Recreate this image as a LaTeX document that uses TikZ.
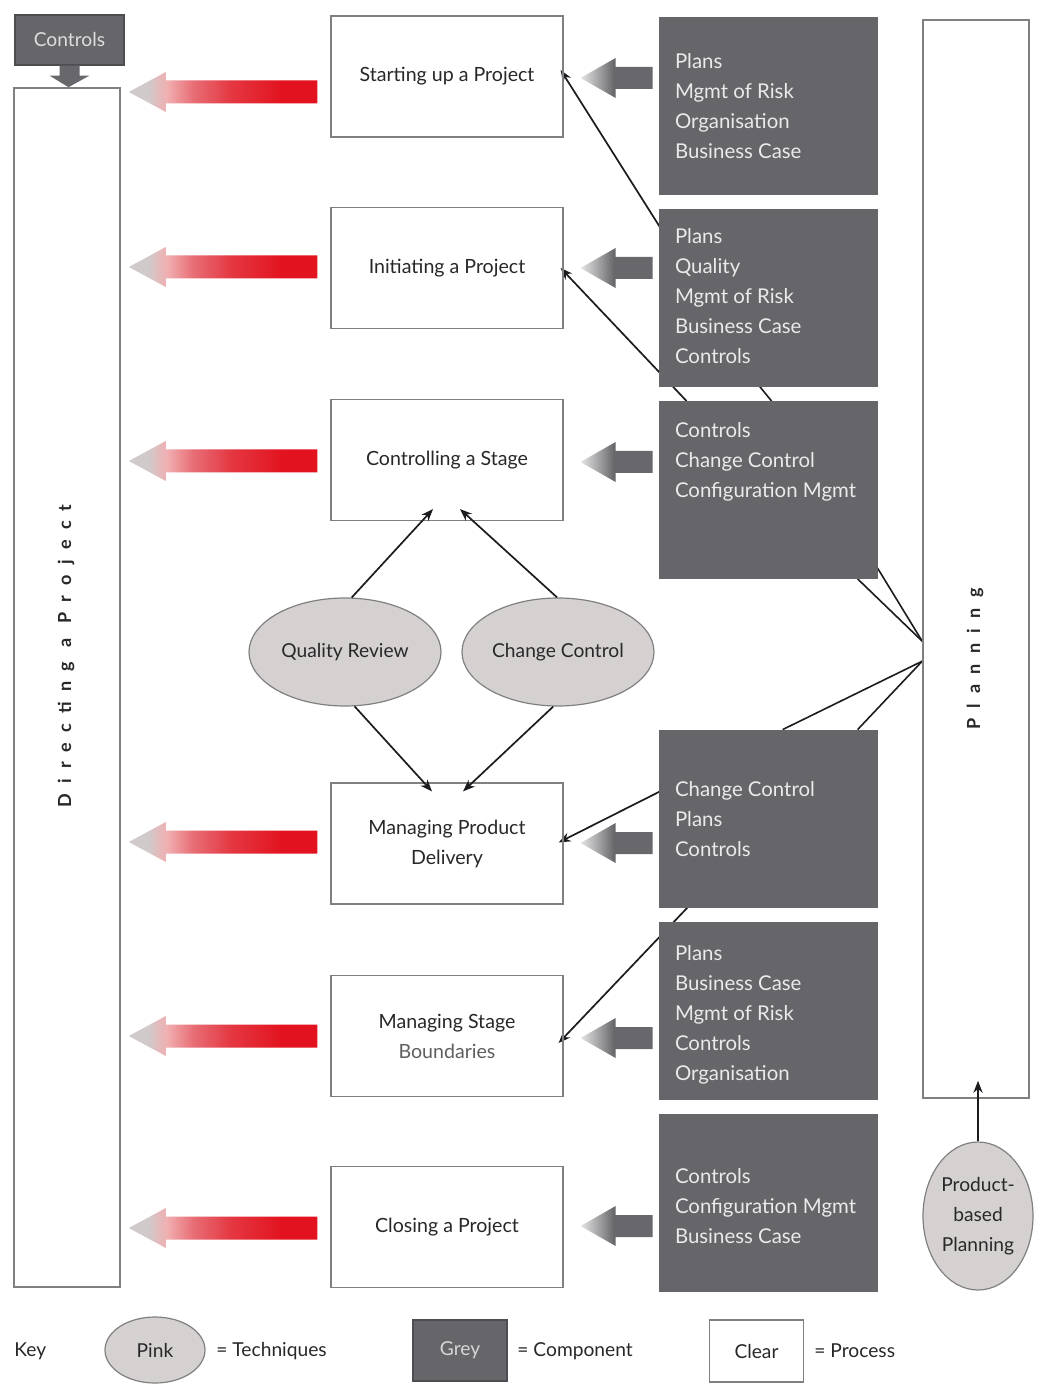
\documentclass[tikz,border=0pt]{standalone}
\usepackage{fontspec}
\setmainfont{Lato}[BoldFont={Lato Bold}]
\usetikzlibrary{calc,arrows.meta,shapes.geometric}
\definecolor{gfill}{RGB}{102,102,106}
\definecolor{gline}{RGB}{78,78,82}
\definecolor{gtxt}{RGB}{234,234,234}
\definecolor{bgrey}{RGB}{128,128,128}
\definecolor{tdark}{RGB}{40,40,40}
\definecolor{tmid}{RGB}{95,95,95}
\definecolor{pinkfill}{RGB}{214,209,209}
\definecolor{lnk}{RGB}{28,28,32}
\definecolor{tipg}{RGB}{208,202,202}
\definecolor{pinkA}{RGB}{240,176,178}
\definecolor{pinkB}{RGB}{232,110,118}
\definecolor{redA}{RGB}{228,56,66}
\definecolor{redB}{RGB}{226,18,30}
\definecolor{garrL}{RGB}{228,228,228}
\definecolor{garrM}{RGB}{160,160,162}
\definecolor{garrD}{RGB}{104,104,108}
\pgfdeclarehorizontalshading{redshade}{100bp}{color(0bp)=(tipg); color(25bp)=(tipg); color(30bp)=(tipg); color(35bp)=(pinkA); color(42bp)=(pinkB); color(52bp)=(redA); color(66bp)=(redB); color(100bp)=(redB)}
\pgfdeclarehorizontalshading{greyshade}{100bp}{color(0bp)=(garrL); color(25bp)=(garrL); color(38bp)=(garrM); color(48bp)=(garrD); color(100bp)=(garrD)}
\pgfdeclarelayer{bg}
\pgfdeclarelayer{lines}
\pgfsetlayers{bg,lines,main}
\newcommand\redarr[2]{%
  \coordinate (rT) at ($(dir.east |- #1.west)+(8,#2)$);
  \coordinate (rE) at ($(#1.west)+(-13,#2)$);
  \shade[shading=redshade] (rT) -- ($(rT)+(37,-20)$) -- ($(rT)+(37,-11.5)$) -- ($(rE)+(0,-11.5)$) -- ($(rE)+(0,11.5)$) -- ($(rT)+(37,11.5)$) -- ($(rT)+(37,20)$) -- cycle;}
\newcommand\greyarr[3]{%
  \coordinate (aT) at ($(#1.east)+(17,#3)$);
  \coordinate (aE) at ($(#2.west |- #1.east)+(-6,#3)$);
  \shade[shading=greyshade] (aT) -- ($(aT)+(35,-20)$) -- ($(aT)+(35,-11)$) -- ($(aE)+(0,-11)$) -- ($(aE)+(0,11)$) -- ($(aT)+(35,11)$) -- ($(aT)+(35,20)$) -- cycle;}
\begin{document}
\begin{tikzpicture}[x=0.5pt,y=-0.5pt,
  pbox/.style={draw=bgrey,line width=0.6pt,minimum width=116pt,minimum height=60.5pt,align=center,text=tdark,font=\fontsize{9.8}{15}\selectfont},
  gbox/.style={fill=gfill,draw=gfill,minimum width=109pt,minimum height=88.5pt},
  gtext/.style={inner sep=0pt,align=left,text=gtxt,font=\fontsize{10.2}{15}\selectfont},
  tech/.style={ellipse,draw=bgrey,line width=0.6pt,fill=pinkfill,text=tdark,align=center,inner sep=0pt,font=\fontsize{9.6}{15}\selectfont},
  tall/.style={draw=bgrey,line width=0.8pt,minimum width=53pt},
  vlabel/.style={rotate=90,text=tdark,font=\fontsize{9}{10}\selectfont\bfseries\addfontfeatures{LetterSpace=57}},
  link/.style={draw=lnk,line width=0.85pt,-{Stealth[length=6pt,width=4.6pt]}},
  plink/.style={draw=lnk,line width=0.8pt},
  keytext/.style={anchor=west,inner sep=0pt,text=tdark,font=\fontsize{9.6}{12}\selectfont}]
\begin{pgfonlayer}{bg}
\fill[white] (0,0) rectangle (1040,1384);
\end{pgfonlayer}
\useasboundingbox (0,0) rectangle (1040,1384);

% left column
\node[fill=gfill,draw=gline,line width=0.6pt,minimum width=54.5pt,minimum height=25pt,text=gtxt!90!gfill,font=\fontsize{9.6}{12}\selectfont] (ctrl) at (69.5,40) {Controls};
\node[tall,minimum height=599.5pt] (dir) at (67,687.5) {};
\node[vlabel] (dirlab) at (66,656) {Directing a Project};
\fill[garrD] ($(ctrl.south)+(-10,0)$) -- ($(ctrl.south)+(10,0)$) -- ($(ctrl.south)+(10,10)$) -- ($(ctrl.south)+(20,10)$) -- ($(dir.north)+(1.5,0)$) -- ($(ctrl.south)+(-20,10)$) -- ($(ctrl.south)+(-10,10)$) -- cycle;

% processes
\node[pbox] (p1) at (447,76.5) {\raisebox{-2pt}{Starting up a Project}};
\node[pbox] (p2) at (447,268) {Initiating a Project};
\node[pbox] (p3) at (447,460) {\raisebox{-1.5pt}{Controlling a Stage}};
\node[pbox] (p4) at (447,843.5) {Managing Product\\Delivery};
\node[pbox] (p5) at (447,1036) {Managing Stage\\\textcolor{tmid}{Boundaries}};
\node[pbox] (p6) at (447,1227) {\raisebox{-2pt}{Closing a Project}};

% components
\node[gbox] (g1) at (768,105.5) {};
\node[gbox] (g2) at (768,297.5) {};
\node[gbox] (g3) at (768,490) {};
\node[gbox] (g4) at (768,818.5) {};
\node[gbox] (g5) at (768,1010.5) {};
\node[gbox] (g6) at (768,1202.5) {};
\node[gtext,anchor=west] (g1t) at ($(g1.west)+(16,1)$) {Plans\\Mgmt of Risk\\Organisation\\Business Case};
\node[gtext,anchor=west] (g2t) at ($(g2.west)+(16,-1)$) {Plans\\Quality\\Mgmt of Risk\\Business Case\\Controls};
\node[gtext,anchor=west] (g3t) at ($(g3.west)+(16,-28)$) {Controls\\Change Control\\Configuration Mgmt};
\node[gtext,anchor=west] (g4t) at ($(g4.west)+(16,0.5)$) {Change Control\\Plans\\Controls};
\node[gtext,anchor=west] (g5t) at ($(g5.west)+(16,4)$) {Plans\\Business Case\\Mgmt of Risk\\Controls\\Organisation};
\node[gtext,anchor=west] (g6t) at ($(g6.west)+(16,3.5)$) {Controls\\Configuration Mgmt\\Business Case};

% planning
\node[tall,minimum height=539pt] (pl) at (976,559) {};
\node[vlabel] (pllab) at (975,659) {Planning};
\node[tech,minimum width=55pt,minimum height=74pt] (pbp) at (978,1216) {Product-\\based\\Planning};

% techniques
\node[tech,minimum width=96pt,minimum height=54pt] (qr) at (345,652) {Quality Review};
\node[tech,minimum width=96pt,minimum height=54pt] (cc) at (558,652) {Change Control};

% block arrows
\redarr{p1}{15.5}
\redarr{p2}{-1}
\redarr{p3}{1}
\redarr{p4}{-1.5}
\redarr{p5}{0}
\redarr{p6}{1}
\greyarr{p1}{g1}{1.5}
\greyarr{p2}{g2}{0}
\greyarr{p3}{g3}{2}
\greyarr{p4}{g4}{-0.5}
\greyarr{p5}{g5}{2}
\greyarr{p6}{g6}{-1}

% connectors behind components
\begin{pgfonlayer}{lines}
\coordinate (pa) at ($(pl.north west)+(0,622)$);
\coordinate (pb) at ($(pl.north west)+(0,642)$);
\draw[link] ($(g2.north west)+(1,18)$) -- ($(p1.east)+(-3,-6.5)$);
\draw[link] ($(g3.north west)+(28,0)$) -- ($(p2.east)+(-3,0)$);
\draw[plink] ($(g2.south west)+(101,0)$) -- ($(g3.north west)+(113,0)$);
\draw[plink] ($(g3.south east)+(0,-11)$) -- (pa);
\draw[plink] ($(g3.south west)+(199,0)$) -- (pa);
\draw[plink] ($(g4.north west)+(124,0)$) -- (pb);
\draw[plink] ($(g4.north west)+(199,0)$) -- (pb);
\draw[link] ($(g4.north west)+(1,62)$) -- ($(p4.east)+(-5,-1)$);
\draw[link] ($(g4.south west)+(29,0)$) -- ($(p5.east)+(-5,7)$);
\end{pgfonlayer}

% technique arrows
\draw[link] (qr.83) -- ($(p3.south)+(-14,-12)$);
\draw[link] (cc.91) -- ($(p3.south)+(13,-12)$);
\draw[link] (qr.-80) -- ($(p4.north)+(-15,9)$);
\draw[link] (cc.-95) -- ($(p4.north)+(16,9)$);
\draw[link] (pbp.north) -- ($(pl.south)+(2,-18)$);

% key
\node[keytext] (key) at (14,1351) {Key};
\node[tech,minimum width=50pt,minimum height=33pt] (kpink) at (155,1350) {Pink};
\node[keytext] (kpinkt) at (216,1351) {= Techniques};
\node[fill=gfill,draw=gline,line width=0.6pt,minimum width=47pt,minimum height=30.5pt,text=gtxt!85!gfill,font=\fontsize{9.6}{12}\selectfont] (kgrey) at (460,1350.5) {Grey};
\node[keytext] (kgreyt) at (517,1351) {= Component};
\node[draw=bgrey,line width=0.6pt,minimum width=47pt,minimum height=31pt,text=tdark,font=\fontsize{9.6}{12}\selectfont] (kclear) at (756.5,1351) {Clear};
\node[keytext] (kcleart) at (814,1351) {= Process};
\end{tikzpicture}
\end{document}
